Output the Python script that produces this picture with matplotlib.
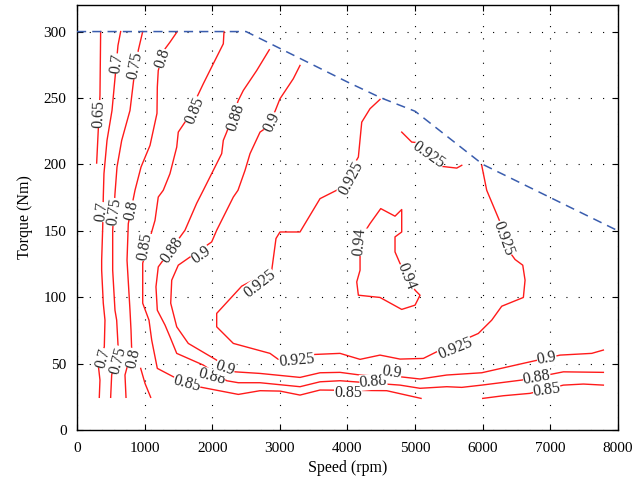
import matplotlib
matplotlib.use("Agg")
import matplotlib.pyplot as plt

# ---------------- data (speed in rpm, torque in Nm) ----------------
speed_ticks = [0, 1000, 2000, 3000, 4000, 5000, 6000, 7000, 8000]
torque_ticks = [0, 50, 100, 150, 200, 250, 300]

envelope_speed = [0, 2500, 4000, 4500, 5000, 6000, 8000]
envelope_torque = [300, 300, 262, 250, 240, 200, 150]

c065_speed = [350, 340, 311, 291]
c065_torque = [300, 252, 222, 201]

c070_speed = [646, 606, 562, 518, 444, 399, 389, 380, 365, 365, 389, 414, 404, 315, 340, 330]
c070_torque = [300, 289.5, 264.7, 240.6, 218, 193, 175.4, 151.7, 127.8, 120.3, 95.5, 82.7, 62.6, 48.9, 37.6, 24.6]

c075_speed = [972, 907, 843, 784, 661, 592, 562, 528, 528, 562, 587, 611, 513, 498]
c075_torque = [300, 286, 265.5, 240.6, 218, 198, 178, 150.4, 120.3, 90.2, 82.7, 60.2, 41.4, 24.6]

c080_speed = [1483, 1375, 1302, 1202, 1188, 1183, 1080, 947, 858, 759, 740, 784, 799, 809, 710, 725]
c080_torque = [300, 292, 287, 270.7, 258.2, 238.4, 214.3, 198, 180.5, 155.4, 127.8, 90.2, 75.2, 60.2, 41.4, 24.6]

c085_speed = [2174, 2164, 2016, 1868, 1809, 1597, 1498, 1475, 1375, 1276, 1202, 1154, 972, 972,
              1065, 1105, 1188, 1424, 1794, 2386, 2707, 3002, 3298, 3594, 4580, 5088]
c085_torque = [300, 290.8, 275.8, 260.7, 254.4, 231.8, 224.3, 213, 193, 180.5, 175.4, 157.9, 125.6, 95.5,
               82.7, 67.7, 46.4, 40.1, 32.6, 26.8, 29.6, 29.3, 26.3, 30.1, 29.6, 23.8]
c085b_speed = [942, 1006, 1090]
c085b_torque = [46.4, 35.1, 24.6]
c085c_speed = [6000, 6305, 6700, 7193, 7488, 7784]
c085c_torque = [23.8, 25.8, 27.6, 33.8, 34.6, 33.8]

c088_speed = [2844, 2658, 2460, 2386, 2214, 2164, 2140, 2016, 1868, 1770, 1597, 1202, 1168, 1188, 1302,
              1375, 1475, 1868, 2214, 2386, 2707, 3298, 3594, 3890, 4777, 5073, 5468, 5690, 5985,
              6577, 7193, 7784]
c088_torque = [286.3, 270.7, 255.7, 248.2, 224.3, 218.1, 208.1, 195.5, 180.5, 170.7, 150.4, 122.8, 107.8,
               90.2, 79, 70.2, 57.7, 48.9, 37.1, 35.6, 35.6, 32.6, 36.3, 37.1, 33.8, 31.4, 32.6, 32.1,
               33.8, 37.6, 43.8, 43.4]

c090_speed = [3298, 3199, 3002, 2928, 2780, 2707, 2559, 2485, 2381, 2312, 2066, 1992, 1498, 1401, 1386,
              1475, 1646, 2066, 2337, 2707, 3298, 3594, 3890, 4186, 4777, 5073, 5468, 5985, 6601,
              7144, 7612, 7784]
c090_torque = [274.5, 264.5, 249.4, 239.9, 226.9, 224.3, 208.1, 195.5, 180.5, 175.4, 150.4, 141.6, 124.1,
               112.8, 95.5, 77.7, 65.2, 52.6, 43.8, 42.6, 39.6, 43.1, 43.4, 41.4, 40.1, 38.4, 41.4, 43.1,
               50.2, 56.4, 57.7, 60.2]

c0925_speed = [4481, 4333, 4211, 4161, 3890, 3594, 3298, 3002, 2943, 2880, 2436, 2066, 2066, 2312, 2854,
               2977, 3520, 3890, 4186, 4481, 4777, 5122, 5320, 5935, 6133, 6281, 6601, 6626, 6592,
               6478, 6379, 6256, 6059, 6000, 5985]
c0925_torque = [248.9, 241.9, 231.8, 205.5, 181.8, 174.2, 149.1, 149.1, 144.2, 120.3, 108.3, 87.8, 77.7,
                65.2, 57.7, 53.2, 56.9, 57.7, 53.2, 56.4, 53.4, 53.9, 58.9, 72.7, 82.7, 93.2, 99.8,
                112.8, 124.1, 128.4, 135.4, 156.6, 180.5, 195.5, 199.3]
c0925b_speed = [4802, 4950, 5098, 5394, 5616, 5690]
c0925b_torque = [224.3, 216.8, 216, 198.5, 197.2, 199.3]

c094_speed = [4260, 4333, 4492, 4703, 4802, 4802, 4703, 4703, 4777, 4999, 5073, 4999, 4802, 4481, 4161,
              4137, 4186, 4186, 4260]
c094_torque = [149.6, 155.4, 166.7, 161, 166, 149.1, 145.4, 134.1, 125.4, 105.3, 101.5, 94, 90.8, 99.8,
               101.5, 111.5, 120.3, 132.9, 149.6]

label_text = ["0.65", "0.7", "0.75", "0.8", "0.85", "0.88", "0.9",
              "0.7", "0.75", "0.8", "0.85", "0.88", "0.9", "0.925",
              "0.7", "0.75", "0.8", "0.85", "0.88", "0.9", "0.925",
              "0.85", "0.88", "0.9", "0.925", "0.9", "0.88", "0.85",
              "0.925", "0.925", "0.925", "0.94", "0.94"]
label_speed = [330, 592, 858, 1267, 1745, 2347, 2884,
               365, 547, 809, 1006, 1401, 1844, 2707,
               390, 615, 830, 1622, 1992, 2189, 3249,
               4012, 4382, 4654, 5591, 6947, 6799, 6947,
               4063, 5196, 6305, 4186, 4876]
label_torque = [238, 276, 274.5, 279.5, 240.6, 235.6, 231.8,
                164.2, 164.2, 165.4, 137.8, 135.4, 131.6, 110.3,
                54, 52.6, 54, 34.6, 40.1, 46.4, 52.1,
                28, 36.3, 43.1, 61.4, 53.9, 39.6, 30.1,
                189.5, 206.8, 144.2, 141.6, 115.3]
label_angle = [88, 82, 79, 72, 68, 72, 65,
               83, 82, 78, 80, 55, 35, 38,
               75, 75, 78, -15, -15, -18, 5,
               0, 5, -8, 22, 10, 10, 8,
               62, -35, -70, 85, -68]

# ---------------- plotting ----------------
plt.rcParams['font.family'] = ['Liberation Serif', 'DejaVu Serif']
fig = plt.figure(figsize=(6.32, 4.95), dpi=100)
ax = fig.add_axes([0.1218, 0.1313, 0.8560, 0.8586])

red = '#ff1a1a'
lines = [(c065_speed, c065_torque), (c070_speed, c070_torque), (c075_speed, c075_torque),
         (c080_speed, c080_torque), (c085_speed, c085_torque), (c085b_speed, c085b_torque),
         (c085c_speed, c085c_torque), (c088_speed, c088_torque), (c090_speed, c090_torque),
         (c0925_speed, c0925_torque), (c0925b_speed, c0925b_torque), (c094_speed, c094_torque)]
for xs, ys in lines:
    ax.plot(xs, ys, color=red, lw=1.0, zorder=3)

ax.plot(envelope_speed, envelope_torque, color='#3a5dae', lw=1.1,
        dashes=(6, 4), zorder=4)

for t, xs, ys, a in zip(label_text, label_speed, label_torque, label_angle):
    ax.text(xs, ys, t, rotation=a, rotation_mode='anchor', ha='center', va='center',
            fontsize=11.5, color='#2a2a2a', zorder=5,
            bbox=dict(boxstyle='square,pad=0.0', fc='white', ec='none'))

ax.set_xlim(0, 8000)
ax.set_ylim(0, 320)
ax.set_xticks(speed_ticks)
ax.set_yticks(torque_ticks)
ax.grid(True, color='black', lw=0.8, dashes=(1, 10), zorder=1)
ax.tick_params(direction='in', length=4, width=0.8, top=True, right=True,
               labelsize=11)
ax.tick_params(axis='x', pad=8.5)
ax.tick_params(axis='y', pad=7.5)
for s in ax.spines.values():
    s.set_linewidth(1.0)
ax.set_xlabel('Speed (rpm)', fontsize=11.5, labelpad=4)
ax.set_ylabel('Torque (Nm)', fontsize=11.5, labelpad=8)

fig.savefig('out.png', dpi=100)
